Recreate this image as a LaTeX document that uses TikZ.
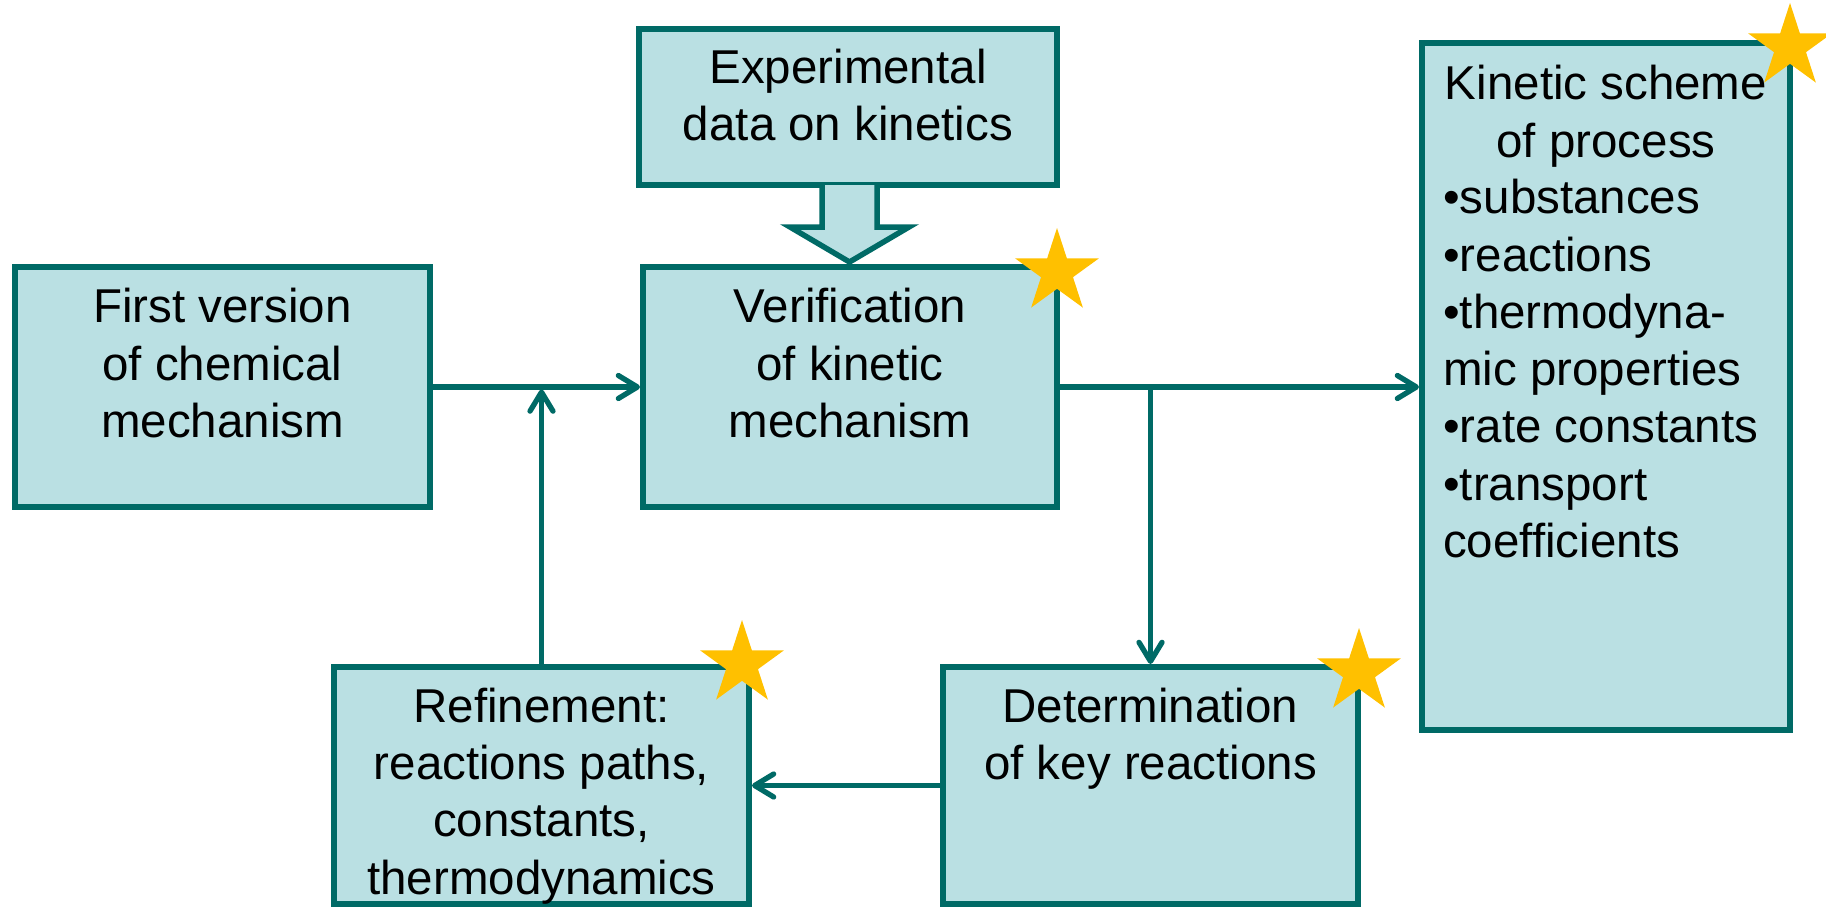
\documentclass[tikz,border=0pt]{standalone}
\usepackage{fontspec}
\setmainfont{Liberation Sans}
\usetikzlibrary{arrows.meta,shapes.geometric}
\definecolor{boxfill}{HTML}{BAE0E3}
\definecolor{tealline}{HTML}{006A66}
\definecolor{starcol}{HTML}{FFC000}
\begin{document}
\begin{tikzpicture}[x=1pt,y=-1pt,
  box/.style={rectangle, draw=tealline, fill=boxfill, line width=6pt, inner sep=0pt},
  txt/.style={font=\fontsize{47.5}{57.3}\selectfont, align=center, inner sep=0pt, anchor=base},
  conn/.style={draw=tealline, line width=5.3pt, -{Straight Barb[length=19pt,width=23pt,round]}},
  starnode/.style={star, star points=5, star point ratio=2.618, fill=starcol, draw=none, inner sep=0pt, minimum size=88pt}]
\useasboundingbox (0,0) rectangle (1826,907);

% boxes
\node[box, minimum width=418pt, minimum height=156pt] (exp) at (848,107) {};
\node[box, minimum width=415pt, minimum height=240pt] (first) at (222.5,387) {};
\node[box, minimum width=414pt, minimum height=240pt] (verif) at (850,387) {};
\node[box, minimum width=368pt, minimum height=687pt] (kin) at (1606,386.5) {};
\node[box, minimum width=415pt, minimum height=237pt] (ref) at (541.5,785.5) {};
\node[box, minimum width=415pt, minimum height=237pt] (det) at (1150.5,785.5) {};

% block arrow from experimental data to verification
\filldraw[fill=boxfill, draw=tealline, line width=5.5pt, line join=miter]
  (822,185) -- (822,227) -- (790,227) -- (849.5,262) -- (909,227) -- (877,227) -- (877,185);

% connectors
\coordinate (joinpt) at (542,389.5);
\coordinate (branch) at (verif.east -| det.north);
\draw[conn] (first.east) -- (verif.west);
\draw[conn] (verif.east) -- (verif.east -| kin.west);
\draw[conn] (branch) -- (det.north);
\draw[conn] (det.west) -- (ref.east);
\draw[conn] (ref.north) -- (ref.north |- joinpt);

% texts (anchor base = baseline of the last line)
\node[txt] (texp) at (848,140.5) {Experimental\\data on kinetics};
\node[txt] (tfirst) at (222.5,437.5) {First version\\of chemical\\mechanism};
\node[txt] (tverif) at (850,437.5) {Verification\\of kinetic\\mechanism};
\node[txt] (tref) at (541.5,894) {Refinement:\\reactions paths,\\constants,\\thermodynamics};
\node[txt] (tdet) at (1150.5,779.5) {Determination\\of key reactions};
\node[txt] (tkinh) at (1606,157) {Kinetic scheme\\of process};
\node[txt, align=left, anchor=base west] (tkinl) at (1443,557.5) {•substances\\•reactions\\•thermodyna-\\mic properties\\•rate constants\\•transport\\coefficients};

% stars
\node[starnode] (s1) at (1057,272) {};
\node[starnode] (s2) at (1790,47) {};
\node[starnode] (s3) at (742,664) {};
\node[starnode] (s4) at (1359,672) {};
\end{tikzpicture}
\end{document}
